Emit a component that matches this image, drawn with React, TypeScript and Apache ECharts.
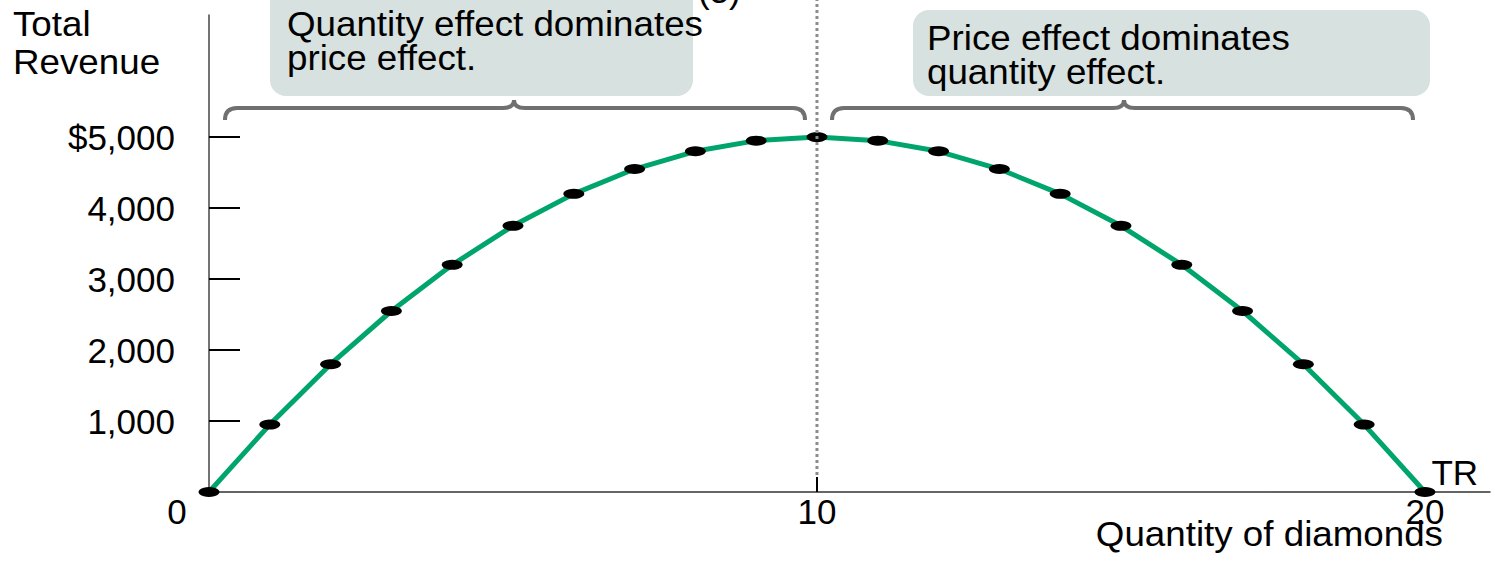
import React, { useEffect, useRef } from "react";
import * as echarts from "echarts";

const quantities = [0, 1, 2, 3, 4, 5, 6, 7, 8, 9, 10, 11, 12, 13, 14, 15, 16, 17, 18, 19, 20];
const totalRevenue = [0, 950, 1800, 2550, 3200, 3750, 4200, 4550, 4800, 4950, 5000, 4950, 4800, 4550, 4200, 3750, 3200, 2550, 1800, 950, 0];
const yTickValues = [1000, 2000, 3000, 4000, 5000];
const yTickLabels = ["1,000", "2,000", "3,000", "4,000", "$5,000"];
const xTickValues = [10];
const xLabelValues = [0, 10, 20];
const dividerQuantity = [10, 10];
const dividerRevenue = [240, 6930];

const FONT = "'Liberation Sans', Arial, Helvetica, sans-serif";
const FS = 35;
const SX = 1.05;

echarts.graphic.registerShape(
  "braceLeft",
  echarts.graphic.extendPath(
    "M225,120 Q225,108 237,108 L503,108 Q514,108 514,100 Q514,108 525,108 L793,108 Q805,108 805,120",
    {}
  )
);
echarts.graphic.registerShape(
  "braceRight",
  echarts.graphic.extendPath(
    "M832,120 Q832,108 844,108 L1113,108 Q1124,108 1124,100 Q1124,108 1135,108 L1401,108 Q1413,108 1413,120",
    {}
  )
);

export default function App() {
  const ref = useRef<HTMLDivElement>(null);
  useEffect(() => {
    if (!ref.current) return;
    const chart = echarts.init(ref.current, undefined, { renderer: "svg" });
    const mainData = quantities.map((q, i) => {
      const item: any = { value: [q, totalRevenue[i]] };
      if (i === quantities.length - 1) {
        item.label = {
          show: true,
          formatter: "TR",
          position: "right",
          offset: [-9, -20],
          fontSize: FS,
          fontFamily: FONT,
          color: "#000",
        };
      }
      return item;
    });
    chart.setOption({
      animation: false,
      backgroundColor: "#fff",
      grid: { left: 209, right: 5, top: 15, bottom: 73, containLabel: false },
      xAxis: {
        type: "value",
        min: 0,
        max: 21.07,
        interval: 10,
        axisLine: { show: true, lineStyle: { color: "#333", width: 1.5 } },
        axisTick: {
          show: true,
          inside: true,
          length: 15,
          customValues: xTickValues,
          lineStyle: { color: "#000", width: 2 },
        },
        axisLabel: {
          customValues: xLabelValues,
          margin: 2,
          formatter: (v: number) => (v === 0 ? "{z|0}" : "{n|" + v + "}"),
          rich: {
            z: { fontSize: FS, fontFamily: FONT, color: "#000", padding: [0, 64, 0, 0] },
            n: { fontSize: FS, fontFamily: FONT, color: "#000" },
          },
        },
        splitLine: { show: false },
      },
      yAxis: {
        type: "value",
        min: 0,
        max: 6720,
        interval: 1000,
        axisLine: { show: true, lineStyle: { color: "#444", width: 1.5 } },
        axisTick: {
          show: true,
          inside: true,
          length: 31,
          customValues: yTickValues,
          lineStyle: { color: "#000", width: 2 },
        },
        axisLabel: {
          customValues: yTickValues,
          margin: 34,
          fontSize: FS,
          fontFamily: FONT,
          color: "#000",
          formatter: (v: number) => {
            const idx = yTickValues.indexOf(v);
            return idx >= 0 ? yTickLabels[idx] : "";
          },
        },
        splitLine: { show: false },
      },
      series: [
        {
          type: "line",
          data: mainData,
          z: 3,
          symbol: "circle",
          symbolSize: [21, 10],
          itemStyle: { color: "#000" },
          lineStyle: { color: "#00a56c", width: 5 },
        },
        {
          type: "line",
          data: dividerQuantity.map((q, i) => [q, dividerRevenue[i]]),
          clip: false,
          z: 5,
          symbol: "none",
          lineStyle: { color: "#8c8c8c", width: 3, type: [3, 3] },
          silent: true,
        },
      ],
      graphic: [
        {
          type: "rect",
          shape: { x: 270, y: -20, width: 423, height: 116, r: 16 },
          style: { fill: "#d7e1df" },
          z: 1,
        },
        {
          type: "rect",
          shape: { x: 913, y: 10, width: 517, height: 86, r: 16 },
          style: { fill: "#d7e1df" },
          z: 1,
        },
        {
          type: "text",
          x: 287,
          y: 7,
          scaleX: SX,
          z: 2,
          style: {
            text: "Quantity effect dominates\nprice effect.",
            fontSize: FS,
            lineHeight: 34,
            fontFamily: FONT,
            fill: "#000",
          },
        },
        {
          type: "text",
          x: 698,
          y: -27,
          z: 2,
          style: { text: "(5)", fontSize: FS, fontFamily: FONT, fill: "#000" },
        },
        {
          type: "text",
          x: 927,
          y: 21,
          scaleX: SX,
          z: 2,
          style: {
            text: "Price effect dominates\nquantity effect.",
            fontSize: FS,
            lineHeight: 34,
            fontFamily: FONT,
            fill: "#000",
          },
        },
        {
          type: "braceLeft",
          z: 2,
          style: { stroke: "#707070", lineWidth: 4, fill: "none" },
        },
        {
          type: "braceRight",
          z: 2,
          style: { stroke: "#707070", lineWidth: 4, fill: "none" },
        },
        {
          type: "text",
          x: 13,
          y: 5,
          scaleX: SX,
          style: {
            text: "Total\nRevenue",
            fontSize: FS,
            lineHeight: 38,
            fontFamily: FONT,
            fill: "#000",
          },
        },
        {
          type: "text",
          x: 1443,
          y: 517,
          scaleX: SX,
          style: {
            text: "Quantity of diamonds",
            fontSize: FS,
            fontFamily: FONT,
            fill: "#000",
            align: "right",
          },
        },
      ],
    });
    return () => chart.dispose();
  }, []);
  return (
    <div
      ref={ref}
      style={{ position: "fixed", left: 0, top: 0, width: 1495, height: 565 }}
    />
  );
}
